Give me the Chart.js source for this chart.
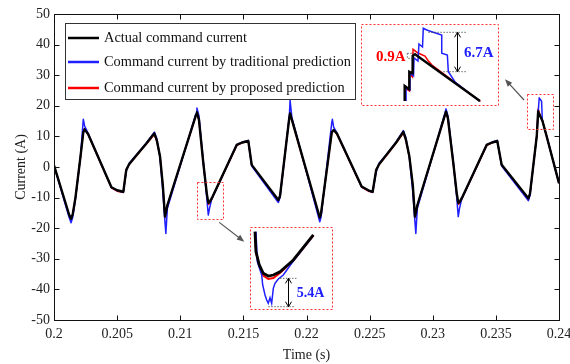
<!DOCTYPE html>
<html>
<head>
<meta charset="utf-8">
<script src="https://cdn.jsdelivr.net/npm/chart.js@4.4.0/dist/chart.umd.min.js"></script>
<style>
html, body { margin: 0; padding: 0; background: #fff; }
#wrap { position: relative; width: 570px; height: 364px; }
#wrap canvas { position: absolute; left: 0; top: 0; }
</style>
</head>
<body>
<div id="wrap"><canvas id="mainChart" width="570" height="364"></canvas></div>
<script>
// main waveform: shared time base (s) and the three command currents (A)
var timeMain = [0.2, 0.2012, 0.20135, 0.20148, 0.2017, 0.2021, 0.20232, 0.20242, 0.2027, 0.20455,
	0.205, 0.20549, 0.20572, 0.20595, 0.2066, 0.2073, 0.20795, 0.20815, 0.2084, 0.20862,
	0.20879, 0.20886, 0.20898, 0.21125, 0.21132, 0.21148, 0.21183, 0.2121, 0.21222, 0.21232,
	0.2125, 0.21447, 0.2149, 0.21539, 0.21566, 0.21777, 0.2179, 0.21864, 0.2187, 0.21884,
	0.22105, 0.22115, 0.222, 0.22205, 0.22215, 0.2224, 0.22437, 0.2249, 0.22524, 0.22552,
	0.22575, 0.2264, 0.2271, 0.22767, 0.22787, 0.22815, 0.22842, 0.22859, 0.22866, 0.22878,
	0.23098, 0.23105, 0.2312, 0.23163, 0.2319, 0.23202, 0.23212, 0.2323, 0.23427, 0.2347,
	0.23511, 0.23546, 0.23757, 0.2377, 0.23824, 0.23835, 0.23843, 0.23862, 0.23868, 0.23901, 0.24];
var actualCurrent = [0.5, -15.6, -16.9, -15.5, -10, 3.5, 11.3, 12.3, 10.8, -6.6,
	-7.6, -8.1, -1.0, 0.9, 4.2, 7.6, 11.0, 8.6, 3.4, -6,
	-16.2, -15.0, -12.5, 17.0, 17.9, 15.5, 1.2, -8.6, -11.7, -11.5,
	-10.2, 7.2, 8.0, 8.5, 0.7, -10.8, -9.5, 16.2, 17.5, 15.5,
	-16.5, -15.2, 11.3, 11.6, 12.1, 11.0, -6.4, -7.6, -8.1, -1.0,
	0.9, 4.3, 8.0, 11.5, 9.0, 3.4, -6, -16.2, -15.0, -12.5,
	17.2, 18.1, 16.0, 1.2, -8.6, -11.7, -11.5, -10.2, 7.2, 8.0,
	8.5, 0.7, -10.2, -8.8, 10.2, 18.2, 17.3, 15.7, 15.2, 10.2, -5.3];
var traditionalCurrent = [0.5, -16.5, -18.2, -16.5, -10.5, 3.5, 15.6, 13.5, 11, -6.7,
	-7.7, -8.3, -1.5, 1.2, 4.3, 7.8, 11.4, 9.2, 3.0, -8,
	-18, -21.7, -13.5, 17.5, 19.3, 16.8, 1.8, -10, -15.7, -13.5,
	-10.4, 7.3, 8.1, 8.7, 0.3, -11.6, -10, 16.5, 21.9, 16.2,
	-17.9, -16.5, 14.5, 15.6, 13, 11.2, -6.5, -7.7, -8.3, -1.6,
	1.2, 4.4, 8.2, 11.9, 9.6, 3.0, -8, -18, -21.7, -13.5,
	17.8, 19.0, 16.8, 1.8, -10, -16.2, -13.5, -10.4, 7.3, 8.1,
	8.7, 0.3, -11.0, -9.3, 10.2, 17.6, 22.6, 21.5, 15.3, 10.2, -5.3];
var proposedCurrent = [0.5, -15.8, -17.2, -15.5, -10, 3.3, 11.5, 12.6, 10.6, -6.8,
	-7.9, -8.3, -0.8, 0.8, 4.0, 7.4, 10.6, 8.4, 3.3, -6,
	-16.6, -15.3, -12.5, 16.8, 17.7, 15.3, 1.0, -8.8, -12.2, -11.9,
	-10.4, 7.0, 7.9, 8.4, 0.6, -11.2, -9.7, 16.3, 17.3, 15.3,
	-16.9, -15.5, 11.2, 11.5, 12.0, 10.8, -6.6, -7.9, -8.3, -0.8,
	0.8, 4.1, 7.8, 11.1, 8.8, 3.3, -6, -16.6, -15.3, -12.5,
	17.0, 17.9, 15.8, 1.0, -8.8, -12.2, -11.9, -10.4, 7.0, 7.9,
	8.4, 0.6, -10.8, -9.0, 10.2, 19.0, 17.8, 15.8, 15.2, 10.2, -5.3];

// zoomed peak near 0.2385 s (upper inset)
var peakActualTime = [0.238243, 0.238243, 0.238287, 0.23829, 0.23832, 0.238324, 0.238348, 0.239007];
var peakActual = [10.25, 12.81, 12.25, 15.26, 14.98, 17.94, 18.23, 10.25];
var peakTraditionalTime = [0.238257, 0.238257, 0.238292, 0.238297, 0.238333, 0.238338, 0.238378, 0.238388, 0.238424,
	0.238432, 0.238467, 0.238517, 0.238619, 0.238619, 0.238676, 0.238686, 0.238754, 0.239];
var peakTraditional = [10.25, 12.70, 12.13, 15.03, 14.52, 17.60, 17.08, 19.99, 19.47,
	22.67, 22.38, 22.09, 21.52, 18.40, 18.11, 15.26, 13.50, 10.25];
var peakProposedTime = [0.23825, 0.23825, 0.238292, 0.238292, 0.238322, 0.238328, 0.238378, 0.238449, 0.23848, 0.23852, 0.239012];
var peakProposed = [10.25, 12.47, 11.96, 14.86, 14.35, 19.08, 18.45, 17.94, 17.17, 16.4, 10.17];

// zoomed valley near 0.2122 s (lower inset)
var valleyActualTime = [0.21186, 0.211872, 0.211912, 0.21196, 0.21202, 0.212081, 0.212161, 0.212322, 0.212563];
var valleyActual = [-3.49, -7.30, -9.83, -11.41, -11.93, -11.74, -11.11, -8.88, -4.12];
var valleyTraditionalTime = [0.211872, 0.211888, 0.211941, 0.211953, 0.211981, 0.212001, 0.21202, 0.212041,
	0.212061, 0.212081, 0.212101, 0.212141, 0.212201, 0.212322, 0.212559];
var valleyTraditional = [-3.49, -9.21, -11.74, -13.64, -15.54, -16.50, -17.12, -16.06,
	-17.12, -14.27, -13.32, -12.5, -11.74, -9.07, -4.31];
var valleyProposedTime = [0.21186, 0.211872, 0.211912, 0.21196, 0.21202, 0.212081, 0.212161, 0.212322, 0.212565];
var valleyProposed = [-3.55, -7.36, -10.02, -11.83, -12.5, -12.31, -11.36, -8.98, -4.18];

var xTickValues = [0.2, 0.205, 0.21, 0.215, 0.22, 0.225, 0.23, 0.235, 0.24];
var xTickLabels = ['0.2', '0.205', '0.21', '0.215', '0.22', '0.225', '0.23', '0.235', '0.24'];
var yTickValues = [-50, -40, -30, -20, -10, 0, 10, 20, 30, 40, 50];
var yTickLabels = ['-50', '-40', '-30', '-20', '-10', '0', '10', '20', '30', '40', '50'];
var seriesNames = ['Actual command current', 'Command current by traditional prediction', 'Command current by proposed prediction'];

var BLACK = '#000000', BLUE = '#2020ff', RED = '#ff0000';
var SERIF = '"Liberation Serif", "Times New Roman", serif';

Chart.defaults.font.family = SERIF;
Chart.defaults.font.size = 14;
Chart.defaults.color = '#222';

var pairs = function(xs, ys){
	return xs.map(function(x, i){ return {x: x, y: ys[i]}; });
}

var arrow = function(ctx, x0, y0, x1, y1){
	var a = Math.atan2(y1 - y0, x1 - x0), h = 8;
	ctx.beginPath();
	ctx.moveTo(x0, y0);
	ctx.lineTo(x1 - Math.cos(a) * 4, y1 - Math.sin(a) * 4);
	ctx.stroke();
	ctx.beginPath();
	ctx.moveTo(x1, y1);
	ctx.lineTo(x1 - h * Math.cos(a - 0.38), y1 - h * Math.sin(a - 0.38));
	ctx.lineTo(x1 - h * Math.cos(a + 0.38), y1 - h * Math.sin(a + 0.38));
	ctx.closePath();
	ctx.fill();
}

var doubleArrow = function(ctx, x, y0, y1){
	ctx.beginPath();
	ctx.moveTo(x, y0); ctx.lineTo(x, y1);
	ctx.moveTo(x - 3, y0 + 5); ctx.lineTo(x, y0); ctx.lineTo(x + 3, y0 + 5);
	ctx.moveTo(x - 3, y1 - 5); ctx.lineTo(x, y1); ctx.lineTo(x + 3, y1 - 5);
	ctx.stroke();
}

// zoom marks on the main plot, in data coordinates
var zoomMarks = [
	{x0: 0.21135, x1: 0.21336, y0: -5.0, y1: -17.1},
	{x0: 0.23749, x1: 0.2395, y0: 23.8, y1: 12.4}
];
var zoomArrows = [
	{x0: 0.21309, y0: -18.1, x1: 0.21507, y1: -24.4},
	{x0: 0.23723, y0: 21.9, x1: 0.23572, y1: 28.7}
];

var framePlugin = {
	id: 'frame',
	afterDraw: function(chart){
		var ctx = chart.ctx, a = chart.chartArea;
		var xs = chart.scales.x, ys = chart.scales.y;
		var L = Math.round(a.left) + 0.5, R = Math.round(a.right) + 0.5;
		var T = Math.round(a.top) + 0.5, B = Math.round(a.bottom) + 0.5;
		ctx.save();
		ctx.strokeStyle = '#111';
		ctx.lineWidth = 1;
		ctx.strokeRect(L, T, R - L, B - T);
		ctx.beginPath();
		xTickValues.forEach(function(v){
			var px = Math.round(xs.getPixelForValue(v)) + 0.5;
			ctx.moveTo(px, B); ctx.lineTo(px, B - 5);
			ctx.moveTo(px, T); ctx.lineTo(px, T + 5);
		});
		yTickValues.forEach(function(v){
			var py = Math.round(ys.getPixelForValue(v)) + 0.5;
			ctx.moveTo(L, py); ctx.lineTo(L + 5, py);
			ctx.moveTo(R, py); ctx.lineTo(R - 5, py);
		});
		ctx.stroke();

		// dashed zoom boxes
		ctx.setLineDash([2, 2]);
		ctx.strokeStyle = '#ff3030';
		zoomMarks.forEach(function(m){
			var x0 = Math.round(xs.getPixelForValue(m.x0)) + 0.5, x1 = Math.round(xs.getPixelForValue(m.x1)) + 0.5;
			var y0 = Math.round(ys.getPixelForValue(m.y0)) + 0.5, y1 = Math.round(ys.getPixelForValue(m.y1)) + 0.5;
			ctx.strokeRect(x0, y0, x1 - x0, y1 - y0);
		});
		ctx.setLineDash([]);

		// arrows towards the insets
		ctx.strokeStyle = '#555';
		ctx.fillStyle = '#555';
		ctx.lineWidth = 1.2;
		zoomArrows.forEach(function(r){
			arrow(ctx, xs.getPixelForValue(r.x0), ys.getPixelForValue(r.y0), xs.getPixelForValue(r.x1), ys.getPixelForValue(r.y1));
		});

		// legend box
		var bx = Math.round(a.left) + 11.5, by = Math.round(a.top) + 9.5;
		ctx.fillStyle = '#fff';
		ctx.fillRect(bx, by, 290, 76);
		ctx.strokeStyle = '#333';
		ctx.lineWidth = 1;
		ctx.strokeRect(bx, by, 290, 76);
		var rows = [24, 48, 74];
		ctx.font = '14.4px ' + SERIF;
		ctx.textBaseline = 'middle';
		chart.data.datasets.forEach(function(ds, i){
			var y = a.top + rows[i];
			ctx.strokeStyle = ds.borderColor;
			ctx.lineWidth = 2.5;
			ctx.beginPath();
			ctx.moveTo(a.left + 14, y); ctx.lineTo(a.left + 45, y);
			ctx.stroke();
			ctx.fillStyle = '#111';
			ctx.fillText(ds.label, a.left + 50, y);
		});
		ctx.restore();
	}
}

var ctx = document.getElementById('mainChart').getContext('2d');
var chart = new Chart(ctx, {
	type: 'line',
	data: {
		datasets: [{
			label: seriesNames[0],
			data: pairs(timeMain, actualCurrent),
			borderColor: BLACK,
			borderWidth: 2.4
		},
		{
			label: seriesNames[1],
			data: pairs(timeMain, traditionalCurrent),
			borderColor: BLUE,
			borderWidth: 1.5
		},
		{
			label: seriesNames[2],
			data: pairs(timeMain, proposedCurrent),
			borderColor: RED,
			borderWidth: 1.5
		}]
	},
	options: {
		responsive: false,
		animation: false,
		elements: {point: {radius: 0}, line: {tension: 0, borderJoinStyle: 'round'}},
		layout: {padding: {top: 14, right: 11, bottom: 0, left: 0}},
		plugins: {legend: {display: false}, tooltip: {enabled: false}},
		scales: {
			x: {
				type: 'linear', min: 0.2, max: 0.24,
				afterBuildTicks: function(s){ s.ticks = xTickValues.map(function(v){ return {value: v}; }); },
				afterFit: function(s){ s.height = 44; s.paddingLeft = 0; s.paddingRight = 0; },
				grid: {display: false, drawTicks: false},
				border: {display: false},
				ticks: {padding: 6, maxRotation: 0, autoSkip: false, callback: function(v, i){ return xTickLabels[i]; }},
				title: {display: true, text: 'Time (s)', padding: {top: 0, bottom: 0}}
			},
			y: {
				type: 'linear', min: -50, max: 50,
				afterBuildTicks: function(s){ s.ticks = yTickValues.map(function(v){ return {value: v}; }); },
				afterFit: function(s){ s.width = 54; s.paddingTop = 0; s.paddingBottom = 0; },
				grid: {display: false, drawTicks: false},
				border: {display: false},
				ticks: {padding: 4, autoSkip: false, callback: function(v, i){ return yTickLabels[i]; }},
				title: {display: true, text: 'Current (A)', padding: {top: 13, bottom: 0}}
			}
		}
	},
	plugins: [framePlugin]
});

// insets: where they sit on the main plot (data coords) and what they zoom into
var makeInset = function(place, win, sets, annotate){
	var xs = chart.scales.x, ys = chart.scales.y;
	var l = Math.round(xs.getPixelForValue(place.x0)), r = Math.round(xs.getPixelForValue(place.x1));
	var t = Math.round(ys.getPixelForValue(place.y0)), b = Math.round(ys.getPixelForValue(place.y1));
	var cv = document.createElement('canvas');
	cv.width = r - l; cv.height = b - t;
	cv.style.left = l + 'px'; cv.style.top = t + 'px';
	document.getElementById('wrap').appendChild(cv);
	new Chart(cv.getContext('2d'), {
		type: 'line',
		data: {datasets: sets},
		options: {
			responsive: false,
			animation: false,
			elements: {point: {radius: 0}, line: {tension: 0}},
			layout: {padding: 0},
			plugins: {legend: {display: false}, tooltip: {enabled: false}},
			scales: {
				x: {type: 'linear', display: false, min: win.x0, max: win.x1},
				y: {type: 'linear', display: false, min: win.y0, max: win.y1}
			}
		},
		plugins: [{
			id: 'insetFrame',
			beforeDraw: function(c){
				c.ctx.fillStyle = '#fff';
				c.ctx.fillRect(0, 0, c.width, c.height);
			},
			afterDraw: function(c){
				var g = c.ctx;
				g.save();
				annotate(g, c.scales.x, c.scales.y);
				g.setLineDash([2, 2]);
				g.strokeStyle = '#ff3030';
				g.lineWidth = 1;
				g.strokeRect(0.5, 0.5, c.width - 1, c.height - 1);
				g.restore();
			}
		}]
	});
}

makeInset({x0: 0.22432, x1: 0.23525, y0: 46.7, y1: 19.9}, {x0: 0.2378, x1: 0.2392, y0: 9.4, y1: 23.4}, [
	{data: pairs(peakActualTime, peakActual), borderColor: BLACK, borderWidth: 2.4},
	{data: pairs(peakTraditionalTime, peakTraditional), borderColor: BLUE, borderWidth: 1.5},
	{data: pairs(peakProposedTime, peakProposed), borderColor: RED, borderWidth: 1.5}
], function(g, xs, ys){
	g.strokeStyle = '#444';
	g.lineWidth = 0.8;
	g.setLineDash([1.5, 1.5]);
	g.beginPath();
	g.moveTo(xs.getPixelForValue(0.238483), ys.getPixelForValue(21.98));
	g.lineTo(xs.getPixelForValue(0.238872), ys.getPixelForValue(21.98));
	g.moveTo(xs.getPixelForValue(0.238635), ys.getPixelForValue(15.26));
	g.lineTo(xs.getPixelForValue(0.238872), ys.getPixelForValue(15.26));
	g.stroke();
	var bx0 = xs.getPixelForValue(0.23827), bx1 = xs.getPixelForValue(0.238348);
	var by0 = ys.getPixelForValue(18.4), by1 = ys.getPixelForValue(17.54);
	g.strokeRect(bx0, by0, bx1 - bx0, by1 - by0);
	g.setLineDash([]);
	g.strokeStyle = '#000';
	g.lineWidth = 1;
	doubleArrow(g, Math.round(xs.getPixelForValue(0.238777)) + 0.5, ys.getPixelForValue(21.98), ys.getPixelForValue(15.26));
	g.font = 'bold 15px ' + SERIF;
	g.textBaseline = 'middle';
	g.fillStyle = RED;
	g.textAlign = 'right';
	g.fillText('0.9A', xs.getPixelForValue(0.238253), ys.getPixelForValue(17.82));
	g.fillStyle = BLUE;
	g.textAlign = 'left';
	g.fillText('6.7A', xs.getPixelForValue(0.238845), ys.getPixelForValue(18.4));
});

makeInset({x0: 0.215525, x1: 0.2221, y0: -19.6, y1: -46.7}, {x0: 0.2118, x1: 0.2128, y0: -18.4, y1: -2.6}, [
	{data: pairs(valleyActualTime, valleyActual), borderColor: BLACK, borderWidth: 2.8},
	{data: pairs(valleyTraditionalTime, valleyTraditional), borderColor: BLUE, borderWidth: 1.5},
	{data: pairs(valleyProposedTime, valleyProposed), borderColor: RED, borderWidth: 2}
], function(g, xs, ys){
	g.strokeStyle = '#444';
	g.lineWidth = 0.8;
	g.setLineDash([1.5, 1.5]);
	g.beginPath();
	g.moveTo(xs.getPixelForValue(0.212161), ys.getPixelForValue(-12.37));
	g.lineTo(xs.getPixelForValue(0.212363), ys.getPixelForValue(-12.37));
	g.moveTo(xs.getPixelForValue(0.21202), ys.getPixelForValue(-17.77));
	g.lineTo(xs.getPixelForValue(0.212342), ys.getPixelForValue(-17.77));
	g.stroke();
	g.setLineDash([]);
	g.strokeStyle = '#000';
	g.lineWidth = 1;
	doubleArrow(g, Math.round(xs.getPixelForValue(0.212254)) + 0.5, ys.getPixelForValue(-12.37), ys.getPixelForValue(-17.77));
	g.font = 'bold 14px ' + SERIF;
	g.textBaseline = 'middle';
	g.textAlign = 'left';
	g.fillStyle = BLUE;
	g.fillText('5.4A', xs.getPixelForValue(0.212363), ys.getPixelForValue(-15.22));
});
</script>
</body>
</html>
